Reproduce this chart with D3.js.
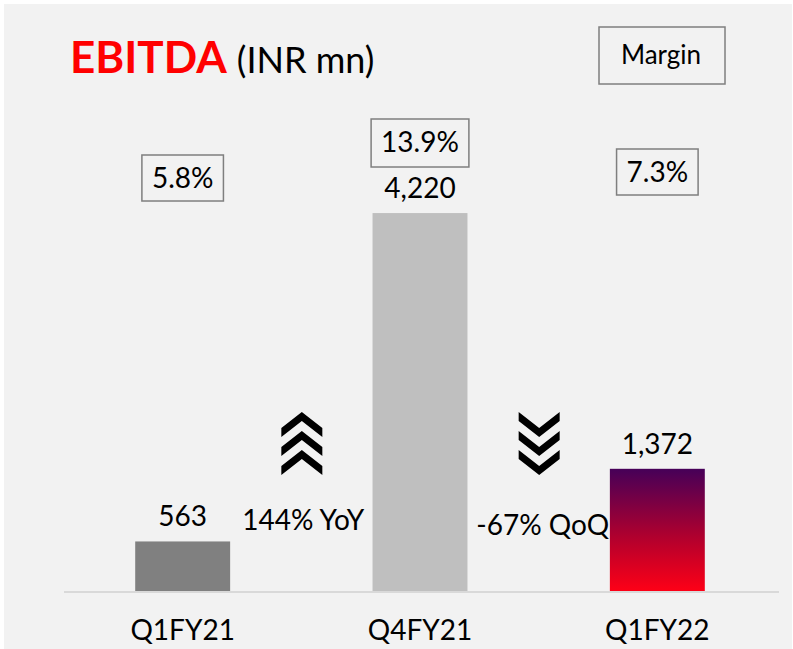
<!DOCTYPE html>
<html>
<head>
<meta charset="utf-8">
<script src="https://cdn.jsdelivr.net/npm/d3@7"></script>
<style>
  body { margin: 0; background: #fff; }
  text { font-family: Lato, "Open Sans", sans-serif; fill: #000; }
</style>
</head>
<body>
<script>
// data
var quarters = ["Q1FY21", "Q4FY21", "Q1FY22"];
var ebitda = [563, 4220, 1372];
var margins = ["5.8%", "13.9%", "7.3%"];
var changes = ["144% YoY", "-67% QoQ"];

// layout
var W = 793, H = 649;
var baseY = 592;
var boxTops = [155, 119, 149];   // margin boxes sit where the slide put them

var svg = d3.select("body").append("svg")
    .attr("width", W)
    .attr("height", H);

var defs = svg.append("defs");
var grad = defs.append("linearGradient")
    .attr("id", "redGrad")
    .attr("x1", 0).attr("y1", 0).attr("x2", 0).attr("y2", 1);
grad.append("stop").attr("offset", "0%").attr("stop-color", "#460058");
grad.append("stop").attr("offset", "55%").attr("stop-color", "#b0002e");
grad.append("stop").attr("offset", "100%").attr("stop-color", "#ff0016");

// background panel
svg.append("rect")
    .attr("x", 4).attr("y", 4)
    .attr("width", W - 5).attr("height", H - 4)
    .attr("fill", "#f2f2f2");

var x = d3.scaleBand()
    .domain(quarters)
    .range([64, 776])
    .paddingInner(0.6)
    .paddingOuter(0.3);

var y = d3.scaleLinear()
    .domain([0, 4800])
    .range([baseY, baseY - 431]);

var barColors = ["#808080", "#bfbfbf", "url(#redGrad)"];

// bars
svg.selectAll("rect.bar")
    .data(ebitda)
    .enter()
    .append("rect")
    .attr("class", "bar")
    .attr("x", function(d, i) { return x(quarters[i]); })
    .attr("y", function(d) { return y(d); })
    .attr("width", x.bandwidth())
    .attr("height", function(d) { return baseY - y(d); })
    .attr("fill", function(d, i) { return barColors[i]; });

// value labels
svg.selectAll("text.val")
    .data(ebitda)
    .enter()
    .append("text")
    .attr("class", "val")
    .attr("x", function(d, i) { return x(quarters[i]) + x.bandwidth() / 2; })
    .attr("y", function(d) { return y(d) - 15; })
    .attr("text-anchor", "middle")
    .attr("font-size", 28)
    .text(function(d) { return d3.format(",")(d); });

// x axis
var axis = svg.append("g")
    .attr("transform", "translate(0," + baseY + ")")
    .call(d3.axisBottom(x).tickSize(0).tickPadding(28));
axis.select(".domain")
    .attr("stroke", "#d9d9d9")
    .attr("stroke-width", 2)
    .attr("d", "M64,0H779");
axis.selectAll(".tick text")
    .attr("font-size", 28)
    .attr("font-family", "Lato, sans-serif")
    .attr("fill", "#000");

// margin boxes
var mb = svg.selectAll("g.margin")
    .data(margins)
    .enter()
    .append("g")
    .attr("class", "margin");
mb.append("text")
    .attr("x", function(d, i) { return x(quarters[i]) + x.bandwidth() / 2; })
    .attr("y", function(d, i) { return boxTops[i] + 33; })
    .attr("text-anchor", "middle")
    .attr("font-size", 28)
    .text(function(d) { return d; });
mb.each(function(d, i) {
  var g = d3.select(this);
  var bb = g.select("text").node().getBBox();
  g.insert("rect", "text")
      .attr("x", bb.x - 10)
      .attr("y", boxTops[i])
      .attr("width", bb.width + 20)
      .attr("height", i === 1 ? 48 : 46)
      .attr("fill", "none")
      .attr("stroke", "#7f7f7f")
      .attr("stroke-width", 1.5);
});

// "Margin" legend box
svg.append("rect")
    .attr("x", 599).attr("y", 27)
    .attr("width", 126).attr("height", 57)
    .attr("fill", "none")
    .attr("stroke", "#7f7f7f")
    .attr("stroke-width", 1.5);
svg.append("text")
    .attr("x", 661).attr("y", 64)
    .attr("text-anchor", "middle")
    .attr("font-size", 26)
    .text("Margin");

// title
var title = svg.append("text")
    .attr("x", 70).attr("y", 73);
title.append("tspan")
    .attr("font-size", 44)
    .attr("font-weight", "bold")
    .style("fill", "#ff0000")
    .text("EBITDA");
title.append("tspan")
    .attr("font-size", 36)
    .attr("dx", 10)
    .text("(INR mn)");

// chevrons between bars
function chevron(cx, top, up) {
  var hw = 20.5, h = 25, t = 9;
  var pts = up
    ? [[cx, top], [cx + hw, top + h - t], [cx + hw, top + h], [cx, top + t], [cx - hw, top + h], [cx - hw, top + h - t]]
    : [[cx, top + h], [cx + hw, top + t], [cx + hw, top], [cx, top + h - t], [cx - hw, top], [cx - hw, top + t]];
  return "M" + pts.join("L") + "Z";
}
var midX = [
  (x(quarters[0]) + x(quarters[1]) + x.bandwidth()) / 2,
  (x(quarters[1]) + x(quarters[2]) + x.bandwidth()) / 2
];
[0, 1].forEach(function(k) {
  [0, 1, 2].forEach(function(j) {
    svg.append("path")
        .attr("d", chevron(midX[k] + 0.5, 412 + j * 19, k === 0))
        .attr("fill", "#000");
  });
  svg.append("text")
      .attr("x", midX[k] + (k === 0 ? 2 : 4))
      .attr("y", k === 0 ? 530 : 535)
      .attr("text-anchor", "middle")
      .attr("font-size", 28)
      .text(changes[k]);
});
</script>
</body>
</html>
